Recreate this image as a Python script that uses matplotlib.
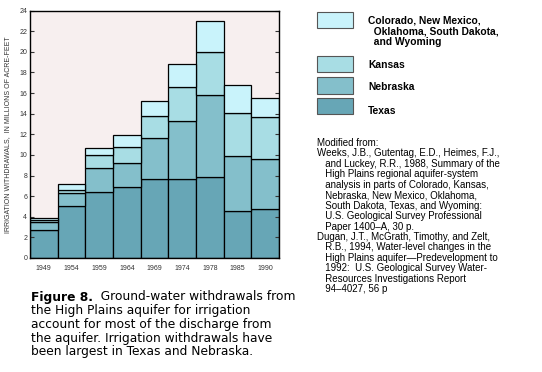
import matplotlib
matplotlib.use('Agg')
from matplotlib import pyplot as plt
from matplotlib.patches import Rectangle
import numpy as np

# 年份
years = ['1949', '1954', '1959', '1964', '1969', '1974', '1978', '1985', '1990']
# 各州抽水量（百万英亩-英尺）
texas = [2.7, 5.05, 6.4, 6.85, 7.65, 7.65, 7.9, 4.55, 4.75]
nebraska = [0.75, 1.25, 2.3, 2.35, 4.0, 5.6, 7.95, 5.35, 4.85]
kansas = [0.2, 0.3, 1.28, 1.55, 2.1, 3.3, 4.1, 4.15, 4.05]
others = [0.2, 0.55, 0.68, 1.13, 1.45, 2.25, 3.0, 2.7, 1.85]

series = [texas, nebraska, kansas, others]
names = ['Texas', 'Nebraska', 'Kansas',
         'Colorado, New Mexico,\n  Oklahoma, South Dakota,\n  and Wyoming']
colors = ['#67a6b6', '#84bfcb', '#a8dde4', '#c9f3fb']

plt.rcParams['font.family'] = ['Liberation Sans', 'DejaVu Sans']

fig = plt.figure(figsize=(5.42, 3.72), dpi=100)
ax = fig.add_axes([30 / 542, 1 - 258 / 372, 249 / 542, 247.5 / 372])
ax.set_facecolor('#f7efef')

x = np.arange(len(years))
bottom = np.zeros(len(years))
for vals, c in zip(series, colors):
    ax.bar(x, vals, width=1.0, bottom=bottom, color=c, edgecolor='black', linewidth=0.9)
    bottom = bottom + np.array(vals)

ax.set_xlim(-0.5, 8.5)
ax.set_ylim(0, 24)
ax.set_yticks(range(0, 25, 2))
ax.set_xticks(x)
ax.set_xticklabels(years)
ax.tick_params(axis='both', labelsize=5, colors='#333333', direction='in', length=3, width=0.8)
ax.tick_params(axis='y', right=True, pad=2)
ax.tick_params(axis='x', length=0, pad=5)
ax.set_ylabel('IRRIGATION WITHDRAWALS,  IN MILLIONS OF ACRE-FEET', fontsize=5, color='#333333', labelpad=6)
for s in ax.spines.values():
    s.set_linewidth(1.0)

# 图例（手动绘制）
legend_pos = [(12, 28, 20), (56, 72, 65), (77, 94, 87), (98, 114, 110)]
for i, (y0, y1, ty) in enumerate(legend_pos):
    idx = 3 - i
    fig.patches.append(Rectangle((317 / 542, 1 - y1 / 372), 36 / 542, (y1 - y0) / 372,
                                 transform=fig.transFigure, facecolor=colors[idx],
                                 edgecolor='#555555', linewidth=0.8))
    fig.text(368 / 542, 1 - (ty - 4.5) / 372, names[idx], fontsize=7.4, fontweight='bold',
             va='top', ha='left', linespacing=1.1)

# 资料来源
source = ['Modified from:',
          'Weeks, J.B., Gutentag, E.D., Heimes, F.J.,',
          '   and Luckey, R.R., 1988, Summary of the',
          '   High Plains regional aquifer-system',
          '   analysis in parts of Colorado, Kansas,',
          '   Nebraska, New Mexico, Oklahoma,',
          '   South Dakota, Texas, and Wyoming:',
          '   U.S. Geological Survey Professional',
          '   Paper 1400\u2013A, 30 p.',
          'Dugan, J.T., McGrath, Timothy, and Zelt,',
          '   R.B., 1994, Water-level changes in the',
          '   High Plains aquifer\u2014Predevelopment to',
          '   1992:  U.S. Geological Survey Water-',
          '   Resources Investigations Report',
          '   94\u20134027, 56 p']
for i, line in enumerate(source):
    fig.text(317 / 542, 1 - (143 + i * 10.45) / 372, line, fontsize=7.0, va='center', ha='left')

# 图注
caption = [('Figure 8.', '  Ground-water withdrawals from'),
           ('', 'the High Plains aquifer for irrigation'),
           ('', 'account for most of the discharge from'),
           ('', 'the aquifer. Irrigation withdrawals have'),
           ('', 'been largest in Texas and Nebraska.')]
cap_font = 'DejaVu Sans'
for i, (b, t) in enumerate(caption):
    yy = 1 - (297 + i * 13.7) / 372
    if b:
        tb = fig.text(31 / 542, yy, b, fontsize=8.8, fontweight='bold', family=cap_font,
                      va='center', ha='left')
        fig.canvas.draw()
        bb = tb.get_window_extent()
        fig.text(bb.x1 / 542, yy, t, fontsize=8.8, family=cap_font, va='center', ha='left')
    else:
        fig.text(31 / 542, yy, t, fontsize=8.8, family=cap_font, va='center', ha='left')

fig.savefig('out.png', dpi=100)
